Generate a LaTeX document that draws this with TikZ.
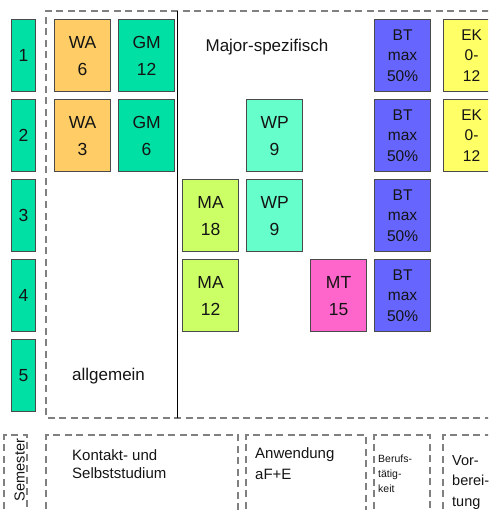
\documentclass[tikz,border=0pt]{standalone}
\usepackage{fontspec}
\setmainfont{Liberation Sans}
\definecolor{cSem}{HTML}{00E0A4}
\definecolor{cWA}{HTML}{FFCC66}
\definecolor{cWP}{HTML}{66FFCC}
\definecolor{cMA}{HTML}{CCFF66}
\definecolor{cMT}{HTML}{FF66CC}
\definecolor{cBT}{HTML}{6666FF}
\definecolor{cEK}{HTML}{FFFF66}
\definecolor{cBorder}{HTML}{4A4A4A}
\definecolor{cDash}{HTML}{808080}
\definecolor{cText}{HTML}{141414}
\tikzset{
  modbox/.style={draw=cBorder, line width=1.2pt, anchor=north west,
    minimum width=56pt, minimum height=72pt, inner sep=0pt, align=center,
    text=cText, font=\fontsize{17.5}{27}\selectfont},
  smallbox/.style={modbox, font=\fontsize{15.5}{20.5}\selectfont},
  sembox/.style={modbox, fill=cSem, minimum width=24pt},
  dashline/.style={draw=cDash, line width=1.5pt, dash pattern=on 7pt off 4.5pt},
  lbl/.style={text=cText, inner sep=0pt, align=left},
}
\begin{document}
\begin{tikzpicture}[x=1pt,y=-1pt]
\useasboundingbox (0,0) rectangle (488,510);
\clip (0,0) rectangle (488,510);
% semester boxes
\foreach \i/\yy in {1/19,2/99,3/179,4/259,5/339}
  \node[sembox] (sem\i) at (11,\yy) {\i};
% outer dashed area
\draw[dashline] (500,11) -- (46,11) -- (46,418) -- (500,418);
\draw[black, line width=1pt] (177,11) -- (177,418);
% modules
\node[modbox, fill=cWA] (wa1) at (54,19) {WA\\6};
\node[modbox, fill=cSem] (gm1) at (118,19) {GM\\12};
\node[smallbox, fill=cBT] (bt1) at (374,19) {BT\\max\\50\%};
\node[smallbox, fill=cEK] (ek1) at (443,19) {EK\\0-\\12};
\node[modbox, fill=cWA] (wa2) at (54,99) {WA\\3};
\node[modbox, fill=cSem] (gm2) at (118,99) {GM\\6};
\node[modbox, fill=cWP] (wp2) at (246,99) {WP\\9};
\node[smallbox, fill=cBT] (bt2) at (374,99) {BT\\max\\50\%};
\node[smallbox, fill=cEK] (ek2) at (443,99) {EK\\0-\\12};
\node[modbox, fill=cMA] (ma3) at (182,179) {MA\\18};
\node[modbox, fill=cWP] (wp3) at (246,179) {WP\\9};
\node[smallbox, fill=cBT] (bt3) at (374,179) {BT\\max\\50\%};
\node[modbox, fill=cMA] (ma4) at (182,259) {MA\\12};
\node[modbox, fill=cMT] (mt4) at (310,259) {MT\\15};
\node[smallbox, fill=cBT] (bt4) at (374,259) {BT\\max\\50\%};
% area labels
\node[lbl, anchor=base, font=\fontsize{17}{20}\selectfont] (major) at (267,52) {Major-spezifisch};
\node[lbl, anchor=base west, font=\fontsize{17}{20}\selectfont] (allg) at (72,380) {allgemein};
% legend boxes
\draw[dashline] (4,520) -- (4,435) -- (27,435) -- (27,520);
\draw[dashline] (46,520) -- (46,435) -- (238,435) -- (238,520);
\draw[dashline] (246,520) -- (246,435) -- (366,435) -- (366,520);
\draw[dashline] (374,520) -- (374,435) -- (430,435) -- (430,520);
\draw[dashline] (443,520) -- (443,435) -- (500,435);
\node[lbl, anchor=base, rotate=90, font=\fontsize{14.5}{17}\selectfont] (semlbl) at (24.5,470) {Semester};
\node[lbl, anchor=base west, font=\fontsize{15}{18.5}\selectfont] (kontakt) at (72,478.5) {Kontakt- und\\Selbststudium};
\node[lbl, anchor=base west, font=\fontsize{15}{21}\selectfont] (anw) at (255,479) {Anwendung\\aF+E};
\node[lbl, anchor=base west, font=\fontsize{10.5}{15}\selectfont] (beruf) at (378,492) {Berufs-\\tätig-\\keit};
\node[lbl, anchor=base west, font=\fontsize{14.5}{20.5}\selectfont] (vor) at (452,506) {Vor-\\berei-\\tung};
\end{tikzpicture}
\end{document}
